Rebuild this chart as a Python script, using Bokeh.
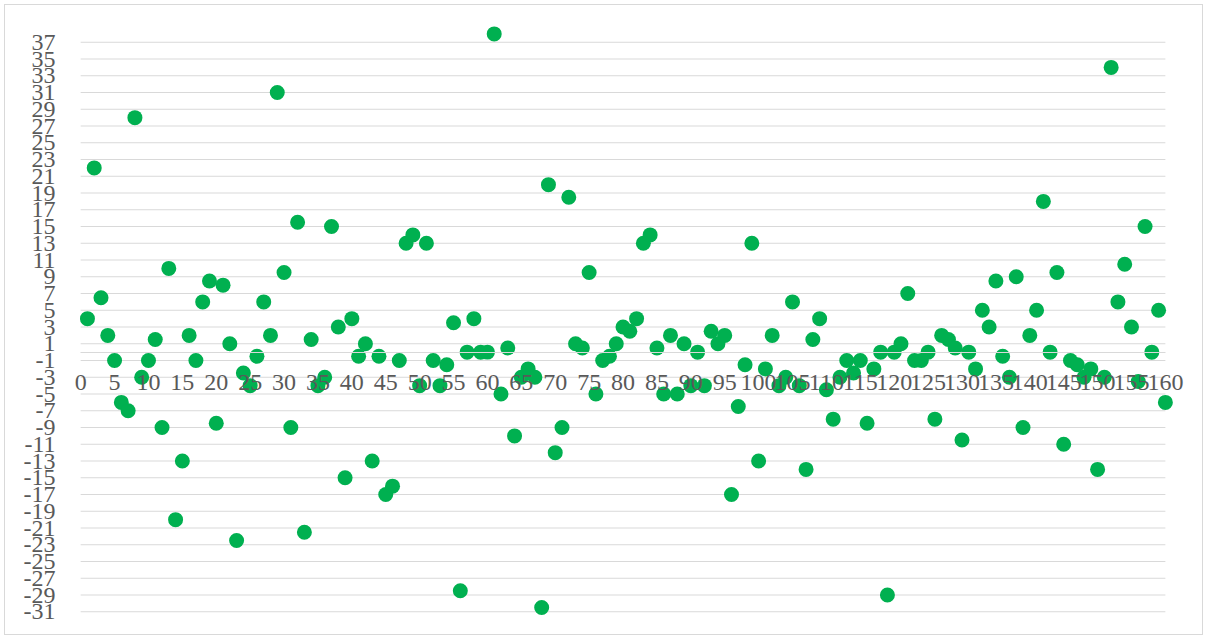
from bokeh.plotting import figure
from bokeh.models import Range1d, FixedTicker, ColumnDataSource
from bokeh.embed import file_html
from bokeh.resources import INLINE

# ---- data ----
x_vals = list(range(1, 161))
y_vals = [
    4, 22, 6.5, 2, -1, -6, -7, 28, -3, -1,
    1.5, -9, 10, -20, -13, 2, -1, 6, 8.5, -8.5,
    8, 1, -22.5, -2.5, -4, -0.5, 6, 2, 31, 9.5,
    -9, 15.5, -21.5, 1.5, -4, -3, 15, 3, -15, 4,
    -0.5, 1, -13, -0.5, -17, -16, -1, 13, 14, -4,
    13, -1, -4, -1.5, 3.5, -28.5, 0, 4, 0, 0,
    38, -5, 0.5, -10, -3, -2, -3, -30.5, 20, -12,
    -9, 18.5, 1, 0.5, 9.5, -5, -1, -0.5, 1, 3,
    2.5, 4, 13, 14, 0.5, -5, 2, -5, 1, -4,
    0, -4, 2.5, 1, 2, -17, -6.5, -1.5, 13, -13,
    -2, 2, -4, -3, 6, -4, -14, 1.5, 4, -4.5,
    -8, -3, -1, -2.5, -1, -8.5, -2, 0, -29, 0,
    1, 7, -1, -1, 0, -8, 2, 1.5, 0.5, -10.5,
    0, -2, 5, 3, 8.5, -0.5, -3, 9, -9, 2,
    5, 18, 0, 9.5, -11, -1, -1.5, -3, -2, -14,
    -3, 34, 6, 10.5, 3, -3.5, 15, 0, 5, -6,
]
x_ticks = list(range(0, 161, 5))
y_ticks = list(range(-31, 38, 2))
x_min, x_max = 0, 160

FONT = "Liberation Serif"
LABEL_COLOR = "#595959"
GRID_COLOR = "#D9D9D9"
POINT_COLOR = "#00B050"

p = figure(
    width=1199, height=631,
    x_range=Range1d(-1.5, 164), y_range=Range1d(-33, 39),
    output_backend="svg", toolbar_location=None,
    min_border_left=65, min_border_right=12,
    min_border_top=20, min_border_bottom=8,
)
p.styles = {"margin": "4px", "border": "1px solid #D9D9D9"}
p.outline_line_color = None
p.background_fill_color = "white"
p.border_fill_color = "white"

# grid lines (horizontal, spanning the x extent)
p.xgrid.visible = False
p.ygrid.visible = False
p.segment(x0=[x_min] * len(y_ticks), x1=[x_max] * len(y_ticks),
          y0=y_ticks, y1=y_ticks, line_color=GRID_COLOR, line_width=1)

# y axis
ya = p.yaxis[0]
ya.ticker = FixedTicker(ticks=y_ticks)
ya.major_label_overrides = {t: str(t) for t in y_ticks}
ya.axis_line_color = None
ya.major_tick_line_color = None
ya.minor_tick_line_color = None
ya.major_tick_out = 0
ya.major_tick_in = 0
ya.major_label_standoff = 15
ya.major_label_text_font = FONT
ya.major_label_text_font_size = "24px"
ya.major_label_text_color = LABEL_COLOR

# x axis crossing at 0
xa = p.xaxis[0]
xa.fixed_location = 0
xa.bounds = (x_min, x_max)
xa.ticker = FixedTicker(ticks=x_ticks)
xa.major_label_overrides = {t: str(t) for t in x_ticks}
xa.axis_line_color = GRID_COLOR
xa.axis_line_width = 1
xa.major_tick_line_color = None
xa.minor_tick_line_color = None
xa.major_tick_out = 0
xa.major_tick_in = 0
xa.major_label_standoff = 23
xa.major_label_text_font = FONT
xa.major_label_text_font_size = "24px"
xa.major_label_text_color = LABEL_COLOR

src = ColumnDataSource(dict(x=x_vals, y=y_vals))
p.scatter("x", "y", source=src, size=15, fill_color=POINT_COLOR,
          line_color=POINT_COLOR, line_width=0)

open("out.html", "w").write(file_html(p, INLINE))
